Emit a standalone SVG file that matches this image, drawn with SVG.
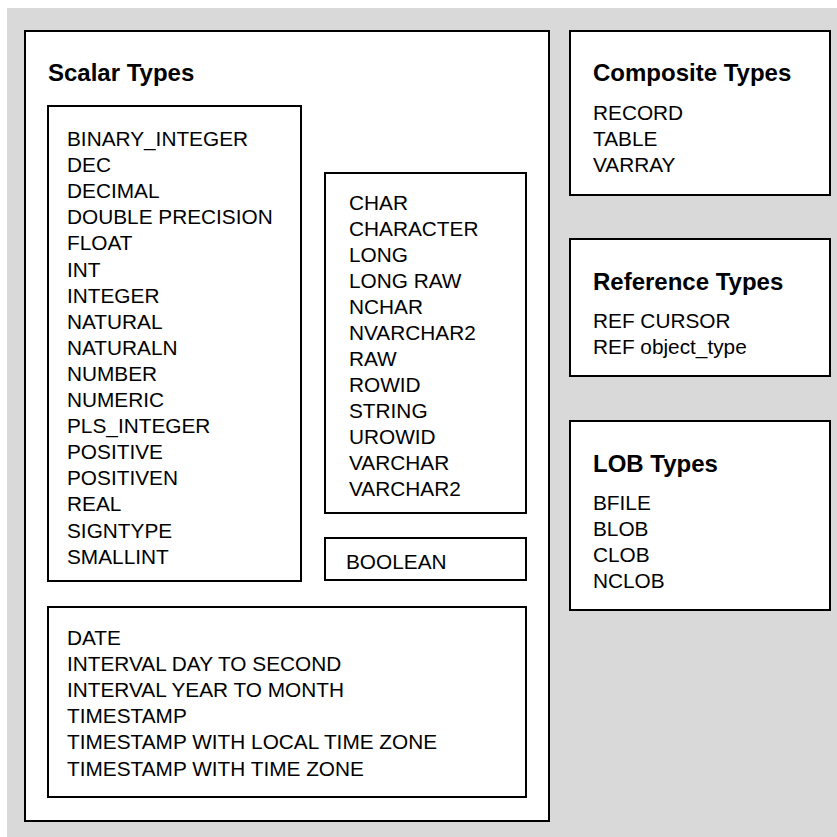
<svg xmlns="http://www.w3.org/2000/svg" width="837" height="837" viewBox="0 0 837 837">
<style>
.box{fill:#ffffff;stroke:#000000;stroke-width:2}
.title{font-family:"Liberation Sans",Arial,sans-serif;font-weight:bold;font-size:24px;fill:#000}
.item{font-family:"Liberation Sans",Arial,sans-serif;font-size:20.8px;fill:#000}
</style>
<rect x="7" y="8" width="830" height="829" fill="#d9d9d9"/>
<g id="scalar-types">
<rect class="box" x="25" y="31" width="524" height="790"/>
<text class="title" x="48" y="81">Scalar Types</text>
</g>
<g id="numeric-types">
<rect class="box" x="48" y="106" width="253" height="475"/>
<text class="item" x="67" y="146">BINARY_INTEGER</text>
<text class="item" x="67" y="172.1">DEC</text>
<text class="item" x="67" y="198.2">DECIMAL</text>
<text class="item" x="67" y="224.3">DOUBLE PRECISION</text>
<text class="item" x="67" y="250.4">FLOAT</text>
<text class="item" x="67" y="276.5">INT</text>
<text class="item" x="67" y="302.6">INTEGER</text>
<text class="item" x="67" y="328.7">NATURAL</text>
<text class="item" x="67" y="354.8">NATURALN</text>
<text class="item" x="67" y="380.9">NUMBER</text>
<text class="item" x="67" y="407">NUMERIC</text>
<text class="item" x="67" y="433.1">PLS_INTEGER</text>
<text class="item" x="67" y="459.2">POSITIVE</text>
<text class="item" x="67" y="485.3">POSITIVEN</text>
<text class="item" x="67" y="511.4">REAL</text>
<text class="item" x="67" y="537.5">SIGNTYPE</text>
<text class="item" x="67" y="563.6">SMALLINT</text>
</g>
<g id="character-types">
<rect class="box" x="325" y="173" width="201" height="340"/>
<text class="item" x="349" y="210">CHAR</text>
<text class="item" x="349" y="236">CHARACTER</text>
<text class="item" x="349" y="262">LONG</text>
<text class="item" x="349" y="288">LONG RAW</text>
<text class="item" x="349" y="314">NCHAR</text>
<text class="item" x="349" y="340">NVARCHAR2</text>
<text class="item" x="349" y="366">RAW</text>
<text class="item" x="349" y="392">ROWID</text>
<text class="item" x="349" y="418">STRING</text>
<text class="item" x="349" y="444">UROWID</text>
<text class="item" x="349" y="470">VARCHAR</text>
<text class="item" x="349" y="496">VARCHAR2</text>
</g>
<g id="boolean-type">
<rect class="box" x="325" y="538" width="201" height="42"/>
<text class="item" x="346" y="569">BOOLEAN</text>
</g>
<g id="datetime-types">
<rect class="box" x="48" y="607" width="478" height="190"/>
<text class="item" x="67" y="645">DATE</text>
<text class="item" x="67" y="671.1">INTERVAL DAY TO SECOND</text>
<text class="item" x="67" y="697.2">INTERVAL YEAR TO MONTH</text>
<text class="item" x="67" y="723.3">TIMESTAMP</text>
<text class="item" x="67" y="749.4">TIMESTAMP WITH LOCAL TIME ZONE</text>
<text class="item" x="67" y="775.5">TIMESTAMP WITH TIME ZONE</text>
</g>
<g id="composite-types">
<rect class="box" x="570" y="31" width="260" height="164"/>
<text class="title" x="593" y="81">Composite Types</text>
<text class="item" x="593" y="119.5">RECORD</text>
<text class="item" x="593" y="145.6">TABLE</text>
<text class="item" x="593" y="171.7">VARRAY</text>
</g>
<g id="reference-types">
<rect class="box" x="570" y="239" width="260" height="137"/>
<text class="title" x="593" y="289.5">Reference Types</text>
<text class="item" x="593" y="328">REF CURSOR</text>
<text class="item" x="593" y="354">REF object_type</text>
</g>
<g id="lob-types">
<rect class="box" x="570" y="421" width="260" height="189"/>
<text class="title" x="593" y="471.5">LOB Types</text>
<text class="item" x="593" y="510">BFILE</text>
<text class="item" x="593" y="536">BLOB</text>
<text class="item" x="593" y="562">CLOB</text>
<text class="item" x="593" y="588">NCLOB</text>
</g>
<g id="connectors"></g>
</svg>
